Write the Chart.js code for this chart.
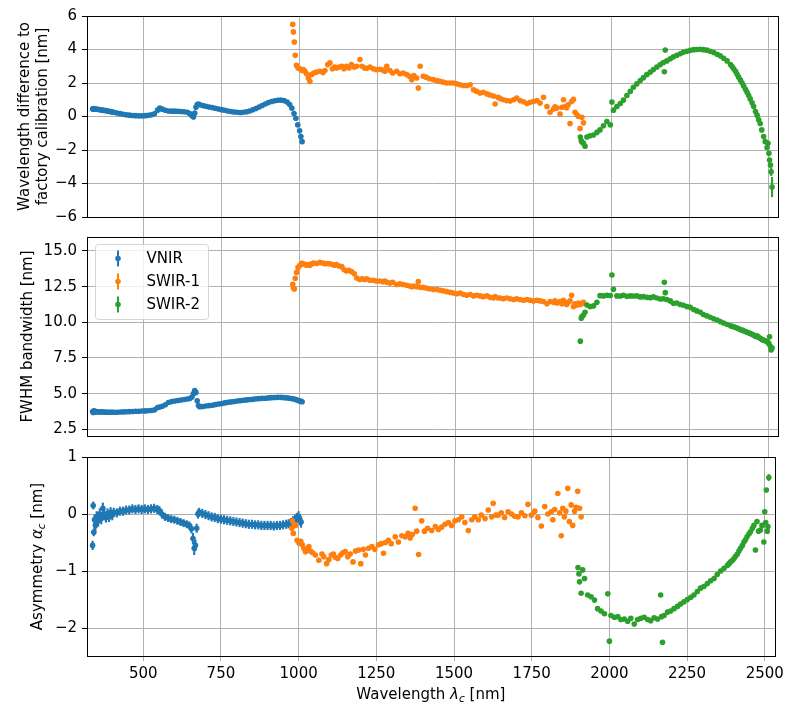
<!DOCTYPE html>
<html>
<head>
<meta charset="utf-8">
<script src="https://cdn.jsdelivr.net/npm/chart.js@4.4.1/dist/chart.umd.min.js"></script>
<style>
  body { margin: 0; background: #fff; }
  #wrap { position: relative; width: 788px; height: 706px; }
  #wrap canvas { position: absolute; left: 0; top: 0; }
</style>
</head>
<body>
<div id="wrap">
  <canvas id="shift-chart" width="788" height="706"></canvas>
  <canvas id="fwhm-chart" width="788" height="706"></canvas>
  <canvas id="asym-chart" width="788" height="706"></canvas>
</div>
<script>
// ---- data ----
const vnirWl = [337, 339, 341, 343, 346, 350,
  355, 360, 365, 370, 375, 380, 385, 390, 395, 400,
  405, 415, 425, 435, 445, 455, 465, 475, 485, 495,
  505, 515, 525, 535, 545, 552, 560, 570, 580, 590,
  600, 610, 620, 630, 640, 648, 655, 660, 664, 668,
  672, 676, 680, 690, 700, 710, 720, 730, 740, 750,
  760, 770, 780, 790, 800, 810, 820, 830, 840, 850,
  860, 870, 880, 890, 900, 910, 920, 930, 940, 950,
  960, 968, 975, 982, 988, 994, 1000, 1004, 1008];
const vnirShift = [0.45, 0.47, 0.44, 0.46, 0.43, 0.44,
  0.42, 0.41, 0.39, 0.38, 0.36, 0.35, 0.33, 0.31, 0.29, 0.27,
  0.25, 0.21, 0.17, 0.13, 0.1, 0.08, 0.06, 0.05, 0.04, 0.04,
  0.05, 0.07, 0.1, 0.16, 0.38, 0.5, 0.44, 0.37, 0.33, 0.32,
  0.32, 0.31, 0.3, 0.28, 0.25, 0.17, 0.05, -0.03, 0.2, 0.55,
  0.72, 0.75, 0.7, 0.65, 0.61, 0.57, 0.53, 0.49, 0.45, 0.41,
  0.37, 0.33, 0.3, 0.27, 0.25, 0.24, 0.25, 0.28, 0.33, 0.4,
  0.48, 0.57, 0.66, 0.75, 0.83, 0.9, 0.94, 0.97, 0.98, 0.95,
  0.86, 0.72, 0.5, 0.18, -0.1, -0.5, -0.85, -1.2, -1.5];
const vnirFwhm = [3.75, 3.68, 3.8, 3.7, 3.76, 3.72,
  3.73, 3.71, 3.72, 3.71, 3.71, 3.7, 3.7, 3.7, 3.69, 3.7,
  3.7, 3.7, 3.71, 3.72, 3.73, 3.74, 3.75, 3.76, 3.77, 3.78,
  3.79, 3.8, 3.82, 3.86, 4.02, 4.06, 4.12, 4.22, 4.38, 4.44,
  4.48, 4.52, 4.55, 4.59, 4.62, 4.66, 4.76, 5.0, 5.22, 5.08,
  4.5, 4.16, 4.08, 4.1, 4.13, 4.16, 4.19, 4.23, 4.27, 4.31,
  4.35, 4.39, 4.42, 4.45, 4.48, 4.51, 4.54, 4.56, 4.58, 4.6,
  4.63, 4.65, 4.67, 4.68, 4.7, 4.72, 4.73, 4.74, 4.74, 4.72,
  4.7, 4.68, 4.65, 4.62, 4.58, 4.53, 4.49, 4.46, 4.43];
const vnirAsym = [-0.55, 0.15, -0.32, -0.1, -0.2, -0.05,
  -0.12, 0.0, -0.08, 0.1, -0.02, -0.06, 0.01, -0.05, 0.03, -0.02,
  0.03, 0.02, 0.05, 0.05, 0.07, 0.07, 0.09, 0.08, 0.09, 0.08,
  0.09, 0.08, 0.09, 0.1, 0.08, 0.06, 0.0, -0.05, -0.07, -0.09,
  -0.1, -0.12, -0.14, -0.16, -0.18, -0.2, -0.26, -0.43, -0.6, -0.55,
  -0.25, 0.0, 0.03, 0.01, -0.01, -0.03, -0.05, -0.06, -0.08, -0.09,
  -0.1, -0.11, -0.12, -0.13, -0.14, -0.15, -0.16, -0.17, -0.18, -0.18,
  -0.19, -0.19, -0.2, -0.2, -0.2, -0.2, -0.21, -0.2, -0.2, -0.19,
  -0.18, -0.17, -0.15, -0.12, -0.1, -0.07, -0.05, -0.1, -0.14];
const vnirAsymErr = [0.08, 0.07, 0.07, 0.09, 0.1, 0.1,
  0.1, 0.1, 0.1, 0.1, 0.09, 0.09, 0.09, 0.09, 0.09, 0.09,
  0.08, 0.08, 0.08, 0.08, 0.08, 0.08, 0.08, 0.08, 0.08, 0.08,
  0.08, 0.08, 0.08, 0.08, 0.08, 0.08, 0.08, 0.07, 0.07, 0.07,
  0.07, 0.07, 0.07, 0.07, 0.07, 0.07, 0.08, 0.1, 0.12, 0.1,
  0.08, 0.08, 0.08, 0.08, 0.08, 0.08, 0.08, 0.08, 0.08, 0.08,
  0.08, 0.08, 0.08, 0.08, 0.08, 0.08, 0.08, 0.08, 0.08, 0.08,
  0.08, 0.08, 0.08, 0.08, 0.08, 0.08, 0.08, 0.08, 0.08, 0.08,
  0.08, 0.08, 0.08, 0.08, 0.09, 0.09, 0.1, 0.1, 0.1];

const swir1Wl = [978, 980, 983, 986, 990, 995, 1001, 1007, 1012, 1017,
  1022, 1028, 1033, 1038, 1045, 1054, 1065, 1075, 1081, 1090,
  1097, 1105, 1112, 1118, 1126, 1135, 1142, 1150, 1158, 1166,
  1175, 1183, 1193, 1200, 1208, 1215, 1225, 1236, 1245, 1257,
  1266, 1273, 1279, 1289, 1298, 1311, 1321, 1332, 1343, 1352,
  1359, 1366, 1375, 1380, 1386, 1396, 1405, 1415, 1428, 1440,
  1450, 1460, 1471, 1482, 1492, 1503, 1514, 1525, 1535, 1546,
  1557, 1567, 1578, 1588, 1600, 1610, 1621, 1626, 1635, 1642,
  1652, 1663, 1674, 1685, 1695, 1706, 1717, 1728, 1738, 1749,
  1760, 1770, 1781, 1792, 1802, 1813, 1818, 1824, 1834, 1840,
  1845, 1850, 1855, 1860, 1866, 1871, 1877, 1882, 1888, 1893,
  1898, 1904, 1909];
const swir1Shift = [5.5, 5.05, 4.45, 3.65, 3.05, 2.9, 2.85, 2.75, 2.8, 2.7,
  2.55, 2.3, 2.1, 2.5, 2.6, 2.65, 2.7, 2.62, 2.75, 3.1,
  3.2, 2.85, 2.95, 2.9, 2.95, 3.0, 2.85, 3.0, 2.9, 3.1,
  2.95, 3.0, 3.4, 3.0, 2.9, 2.88, 2.95, 2.85, 2.8, 2.82,
  2.78, 2.7, 3.0, 2.75, 2.6, 2.7, 2.55, 2.6, 2.5, 2.4,
  2.2, 2.45, 2.3, 1.7, 3.0, 2.4, 2.35, 2.25, 2.2, 2.15,
  2.1, 2.05, 2.0, 2.0, 2.0, 1.95, 1.9, 1.85, 1.85, 1.9,
  1.6, 1.5, 1.4, 1.45, 1.35, 1.28, 1.22, 0.75, 1.15, 1.08,
  1.0, 0.95, 0.92, 1.0, 1.1, 0.95, 0.88, 0.78, 0.85, 0.9,
  0.95, 0.8, 1.15, 0.6, 0.25, 0.45, 0.58, 0.5, 0.15, 0.55,
  1.0, 0.6, 0.52, 0.7, -0.42, 0.9, 1.02, 0.25, 0.1, 0.0,
  -0.72, -0.05, -0.38];
const swir1Fwhm = [12.66, 12.4, 12.33, 13.08, 13.5, 13.85, 14.0, 14.14, 14.1, 14.05,
  14.0, 14.05, 14.0, 14.1, 14.15, 14.12, 14.2, 14.15, 14.1, 14.12,
  14.1, 14.05, 14.0, 14.05, 13.95, 13.9, 13.7, 13.6, 13.65, 13.55,
  13.4, 13.1, 13.0, 13.05, 13.0, 13.05, 12.95, 12.95, 12.9, 12.9,
  12.85, 12.9, 12.8, 12.75, 12.8, 12.65, 12.7, 12.65, 12.6, 12.55,
  12.5, 12.55, 12.5, 12.85, 12.45, 12.45, 12.4, 12.35, 12.3, 12.3,
  12.25, 12.2, 12.15, 12.1, 12.05, 12.0, 12.05, 11.95, 11.9, 11.95,
  11.85, 11.9, 11.85, 11.8, 11.85, 11.75, 11.7, 11.8, 11.7, 11.7,
  11.65, 11.7, 11.65, 11.6, 11.65, 11.6, 11.55, 11.6, 11.55, 11.5,
  11.55, 11.5, 11.45, 11.3, 11.45, 11.4, 11.5, 11.35, 11.45, 11.3,
  11.55, 11.35, 11.25, 11.4, 11.5, 11.9, 11.1, 11.3, 11.2, 11.35,
  11.25, 11.3, 11.4];
const swir1Asym = [-0.25, -0.12, -0.34, -0.19, -0.2, -0.46, -0.51, -0.48, -0.54, -0.6,
  -0.66, -0.62, -0.57, -0.65, -0.68, -0.72, -0.81, -0.7, -0.75, -0.87,
  -0.8, -0.72, -0.7, -0.76, -0.78, -0.72, -0.68, -0.66, -0.75, -0.7,
  -0.84, -0.65, -0.63, -0.87, -0.62, -0.72, -0.6, -0.57, -0.62, -0.54,
  -0.52, -0.69, -0.5, -0.46, -0.52, -0.4, -0.49, -0.38, -0.4, -0.34,
  -0.42, -0.36, 0.1, -0.3, -0.71, -0.12, -0.3, -0.25, -0.29, -0.22,
  -0.27, -0.23, -0.18, -0.15, -0.2, -0.12, -0.1, -0.05, -0.15, -0.29,
  -0.1, -0.05, -0.1, -0.02, -0.08, 0.07, -0.05, 0.19, -0.02, -0.02,
  0.02, -0.06, 0.04, 0.0, -0.04, -0.05, 0.02, -0.03, 0.17, -0.02,
  0.05, -0.06, -0.21, 0.13, 0.0, 0.04, -0.1, 0.08, 0.36, 0.02,
  -0.38, 0.1, -0.05, 0.05, 0.45, -0.13, 0.16, -0.2, 0.05, 0.12,
  0.4, 0.1, -0.05];

const swir2Wl = [1899, 1902, 1904, 1909, 1914, 1920, 1930, 1941, 1952, 1962,
  1973, 1984, 1995, 2000, 2005, 2016, 2027, 2037, 2048, 2059,
  2069, 2080, 2091, 2101, 2112, 2123, 2133, 2144, 2155, 2165,
  2168, 2171, 2176, 2187, 2197, 2208, 2219, 2229, 2240, 2251,
  2262, 2272, 2283, 2293, 2304, 2315, 2326, 2337, 2347, 2358,
  2369, 2380, 2385, 2390, 2396, 2401, 2406, 2412, 2417, 2422,
  2428, 2433, 2438, 2443, 2449, 2454, 2460, 2465, 2470, 2475,
  2480, 2486, 2491, 2497, 2500, 2503, 2505, 2508, 2510, 2513];
const swir2Shift = [-1.22, -1.45, -1.52, -1.6, -1.78, -1.22, -1.15, -1.1, -0.95, -0.8,
  -0.55, -0.3, -0.5, 0.87, 0.38, 0.6, 0.78, 0.98, 1.25, 1.5,
  1.75, 1.95, 2.15, 2.32, 2.5, 2.65, 2.8, 2.95, 3.1, 3.22,
  2.67, 3.97, 3.32, 3.45, 3.56, 3.66, 3.75, 3.84, 3.9, 3.95,
  3.99, 4.0, 4.01, 3.99, 3.96, 3.9, 3.82, 3.72, 3.62, 3.48,
  3.32, 3.1, 2.98, 2.85, 2.7, 2.52, 2.35, 2.17, 2.0, 1.82,
  1.62, 1.45, 1.25, 1.05, 0.82, 0.6, 0.3, 0.08, -0.2, -0.42,
  -0.8, -1.2, -1.5, -1.85, -1.6, -2.2, -2.6, -2.9, -3.3, -4.21];
const swir2Fwhm = [8.68, 10.28, 10.4, 10.51, 10.7, 11.21, 11.1, 11.15, 11.4, 11.87,
  11.85, 11.9, 11.88, 13.32, 12.31, 11.85, 11.84, 11.9, 11.82, 11.85,
  11.84, 11.85, 11.78, 11.8, 11.75, 11.73, 11.78, 11.7, 11.63, 11.65,
  12.8, 12.08, 11.6, 11.5, 11.33, 11.35, 11.25, 11.2, 11.1, 11.05,
  10.9, 10.8, 10.7, 10.55, 10.45, 10.35, 10.25, 10.16, 10.05, 9.95,
  9.85, 9.75, 9.72, 9.69, 9.64, 9.6, 9.55, 9.5, 9.45, 9.4,
  9.35, 9.3, 9.26, 9.22, 9.16, 9.1, 9.0, 9.05, 8.95, 8.88,
  8.8, 8.75, 8.7, 8.64, 8.6, 8.5, 8.99, 8.3, 8.06, 8.2];
const swir2Asym = [-0.94, -1.05, -1.19, -1.39, -0.98, -1.13, -1.42, -1.45, -1.51, -1.66,
  -1.7, -1.75, -1.4, -2.23, -1.78, -1.81, -1.8, -1.85, -1.84, -1.88,
  -1.83, -1.93, -1.85, -1.83, -1.81, -1.85, -1.87, -1.82, -1.84, -1.42,
  -1.8, -2.25, -1.78, -1.72, -1.7, -1.66, -1.62, -1.58, -1.54, -1.5,
  -1.46, -1.42, -1.36, -1.3, -1.27, -1.22, -1.17, -1.13, -1.06, -1.0,
  -0.95, -0.9, -0.87, -0.84, -0.81, -0.78, -0.74, -0.7, -0.65, -0.6,
  -0.55, -0.49, -0.45, -0.4, -0.35, -0.31, -0.25, -0.2, -0.63, -0.13,
  -0.3, -0.28, -0.2, -0.49, 0.04, -0.15, 0.42, -0.3, -0.22, 0.64];
// sparse error bars (wavelength, error)
const swir2ShiftErrWl = [2510, 2513];
const swir2ShiftErr = [0.25, 0.6];
const swir2AsymErrWl = [2505, 2513];
const swir2AsymErr = [0.03, 0.06];

const bandLabels = ['VNIR', 'SWIR-1', 'SWIR-2'];
const bandColors = ['#1f77b4', '#ff7f0e', '#2ca02c'];
const xTickVals = [500, 750, 1000, 1250, 1500, 1750, 2000, 2250, 2500];
const shiftTicks = [-6, -4, -2, 0, 2, 4, 6];
const fwhmTicks = [2.5, 5, 7.5, 10, 12.5, 15];
const asymTicks = [-2, -1, 0, 1];

// ---- look ----
const FONT = "'DejaVu Sans', sans-serif";
const FS = 15;
const GRID = '#b0b0b0';
const PLOT_LEFT = 87, PLOT_RIGHT = 778, H = 706;

const toPoints = (wl, vals) => wl.map((w, i) => ({ x: w, y: vals[i] }));
const errFor = (wl, errWl, errVals) => wl.map(w => {
  const k = errWl.indexOf(w);
  return k < 0 ? 0 : errVals[k];
});
const minusFmt = v => (v < 0 ? '\u2212' : '') + Math.abs(v);

function bandDatasets(series, errs) {
  return series.map((pts, i) => ({
    label: bandLabels[i],
    data: pts,
    yErr: errs ? errs[i] : null,
    backgroundColor: bandColors[i],
    borderWidth: 0,
    pointRadius: 2.8,
    pointHoverRadius: 2.8,
    order: 3 - i  // SWIR-2 on top
  }));
}

// vertical error bars drawn under each dataset's markers
const errorBars = {
  id: 'errorBars',
  beforeDatasetDraw(chart, args) {
    const ds = chart.data.datasets[args.index];
    if (!ds.yErr) return;
    const ctx = chart.ctx, ys = chart.scales.y;
    ctx.save();
    ctx.strokeStyle = ds.backgroundColor;
    ctx.lineWidth = 2.1;
    args.meta.data.forEach((el, i) => {
      const e = ds.yErr[i];
      if (!e) return;
      const v = ds.data[i].y;
      ctx.beginPath();
      ctx.moveTo(el.x, ys.getPixelForValue(v - e));
      ctx.lineTo(el.x, ys.getPixelForValue(v + e));
      ctx.stroke();
    });
    ctx.restore();
  }
};

const frame = {
  id: 'frame',
  afterDatasetsDraw(chart) {
    const { ctx, chartArea: a } = chart;
    ctx.save();
    ctx.strokeStyle = '#000';
    ctx.lineWidth = 1;
    const l = Math.round(a.left) + 0.5, t = Math.round(a.top) + 0.5;
    ctx.strokeRect(l, t, Math.round(a.right) - Math.round(a.left), Math.round(a.bottom) - Math.round(a.top));
    ctx.restore();
  }
};

function drawRich(ctx, parts, cx, baseY) {
  const fontOf = p => `${p.it ? 'italic ' : ''}${p.sub ? FS * 0.7 : FS}px ${FONT}`;
  let total = 0;
  parts.forEach(p => { ctx.font = fontOf(p); total += ctx.measureText(p.t).width; });
  let x = cx - total / 2;
  ctx.fillStyle = '#000';
  ctx.textAlign = 'left';
  ctx.textBaseline = 'alphabetic';
  parts.forEach(p => {
    ctx.font = fontOf(p);
    ctx.fillText(p.t, x, baseY + (p.sub ? 3 : 0));
    x += ctx.measureText(p.t).width;
  });
}

// axis titles (with the mathtext-style subscripts)
function axisTitles(yLines, xTitle) {
  return {
    id: 'axisTitles',
    afterDraw(chart) {
      const { ctx, chartArea: a } = chart;
      yLines.forEach(line => {
        ctx.save();
        ctx.translate(line.x, (a.top + a.bottom) / 2);
        ctx.rotate(-Math.PI / 2);
        drawRich(ctx, line.parts, 0, 0);
        ctx.restore();
      });
      if (xTitle) drawRich(ctx, xTitle.parts, (a.left + a.right) / 2, xTitle.y);
    }
  };
}

function roundRect(ctx, x, y, w, h, r) {
  ctx.beginPath();
  ctx.moveTo(x + r, y);
  ctx.lineTo(x + w - r, y);
  ctx.arcTo(x + w, y, x + w, y + r, r);
  ctx.lineTo(x + w, y + h - r);
  ctx.arcTo(x + w, y + h, x + w - r, y + h, r);
  ctx.lineTo(x + r, y + h);
  ctx.arcTo(x, y + h, x, y + h - r, r);
  ctx.lineTo(x, y + r);
  ctx.arcTo(x, y, x + r, y, r);
  ctx.closePath();
}

// matplotlib-like legend with errorbar handles
const errLegend = {
  id: 'errLegend',
  afterDraw(chart) {
    const { ctx, chartArea: a } = chart;
    const bx = a.left + 8.5, by = a.top + 7.5;
    ctx.save();
    roundRect(ctx, bx, by, 113, 75, 3);
    ctx.fillStyle = 'rgba(255,255,255,0.8)';
    ctx.fill();
    ctx.strokeStyle = 'rgba(204,204,204,0.8)';
    ctx.lineWidth = 1;
    ctx.stroke();
    bandLabels.forEach((lab, i) => {
      const cy = by + 14 + i * 23;
      const mx = bx + 22.5;
      ctx.strokeStyle = bandColors[i];
      ctx.lineWidth = 2;
      ctx.beginPath();
      ctx.moveTo(mx, cy - 8);
      ctx.lineTo(mx, cy + 8);
      ctx.stroke();
      ctx.fillStyle = bandColors[i];
      ctx.beginPath();
      ctx.arc(mx, cy, 2.8, 0, Math.PI * 2);
      ctx.fill();
      ctx.fillStyle = '#000';
      ctx.font = `${FS}px ${FONT}`;
      ctx.textAlign = 'left';
      ctx.textBaseline = 'middle';
      ctx.fillText(lab, bx + 51, cy + 0.5);
    });
    ctx.restore();
  }
};

function makePanel(id, p) {
  return new Chart(document.getElementById(id), {
    type: 'scatter',
    data: { datasets: p.datasets },
    options: {
      responsive: false,
      animation: false,
      devicePixelRatio: 1,
      events: [],
      layout: { padding: { left: 0, right: 788 - PLOT_RIGHT, top: p.top, bottom: 0 } },
      plugins: { legend: { display: false }, tooltip: { enabled: false } },
      scales: {
        x: {
          type: 'linear',
          min: 319,
          max: 2532,
          afterBuildTicks: s => { s.ticks = xTickVals.map(v => ({ value: v })); },
          afterFit: s => { s.height = H - p.bottom; },
          grid: { color: GRID, lineWidth: 1, tickColor: GRID, tickLength: p.xTickLen },
          border: { display: false },
          ticks: {
            display: !!p.xLabels,
            color: '#000',
            font: { family: FONT, size: FS },
            padding: 4,
            maxRotation: 0,
            autoSkip: false,
            callback: v => String(v)
          }
        },
        y: {
          min: p.yMin,
          max: p.yMax,
          afterBuildTicks: s => { s.ticks = p.yTicks.map(v => ({ value: v })); },
          afterFit: s => { s.width = PLOT_LEFT; },
          grid: { color: GRID, lineWidth: 1, tickColor: '#000', tickLength: 5 },
          border: { display: false },
          ticks: {
            color: '#000',
            font: { family: FONT, size: FS },
            padding: 5,
            callback: p.fmt
          }
        }
      }
    },
    plugins: [errorBars, frame, axisTitles(p.yLines, p.xTitle)].concat(p.extra || [])
  });
}

makePanel('shift-chart', {
  top: 16, bottom: 217, xTickLen: 20,
  yMin: -6, yMax: 6, yTicks: shiftTicks, fmt: minusFmt,
  datasets: bandDatasets(
    [toPoints(vnirWl, vnirShift), toPoints(swir1Wl, swir1Shift), toPoints(swir2Wl, swir2Shift)],
    [null, null, errFor(swir2Wl, swir2ShiftErrWl, swir2ShiftErr)]),
  yLines: [
    { x: 28.5, parts: [{ t: 'Wavelength difference to' }] },
    { x: 46.8, parts: [{ t: 'factory calibration [nm]' }] }
  ]
});

makePanel('fwhm-chart', {
  top: 237, bottom: 436, xTickLen: 21,
  yMin: 2.03, yMax: 15.98, yTicks: fwhmTicks, fmt: v => v.toFixed(1),
  datasets: bandDatasets(
    [toPoints(vnirWl, vnirFwhm), toPoints(swir1Wl, swir1Fwhm), toPoints(swir2Wl, swir2Fwhm)]),
  yLines: [{ x: 32.2, parts: [{ t: 'FWHM bandwidth [nm]' }] }],
  extra: [errLegend]
});

makePanel('asym-chart', {
  top: 457, bottom: 656, xTickLen: 5, xLabels: true,
  yMin: -2.49, yMax: 1, yTicks: asymTicks, fmt: minusFmt,
  datasets: bandDatasets(
    [toPoints(vnirWl, vnirAsym), toPoints(swir1Wl, swir1Asym), toPoints(swir2Wl, swir2Asym)],
    [errFor(vnirWl, vnirWl, vnirAsymErr), null, errFor(swir2Wl, swir2AsymErrWl, swir2AsymErr)]),
  yLines: [{ x: 42, parts: [{ t: 'Asymmetry ' }, { t: '\u03b1', it: true }, { t: 'c', it: true, sub: true }, { t: ' [nm]' }] }],
  xTitle: { y: 698.5, parts: [{ t: 'Wavelength ' }, { t: '\u03bb', it: true }, { t: 'c', it: true, sub: true }, { t: ' [nm]' }] }
});
</script>
</body>
</html>
